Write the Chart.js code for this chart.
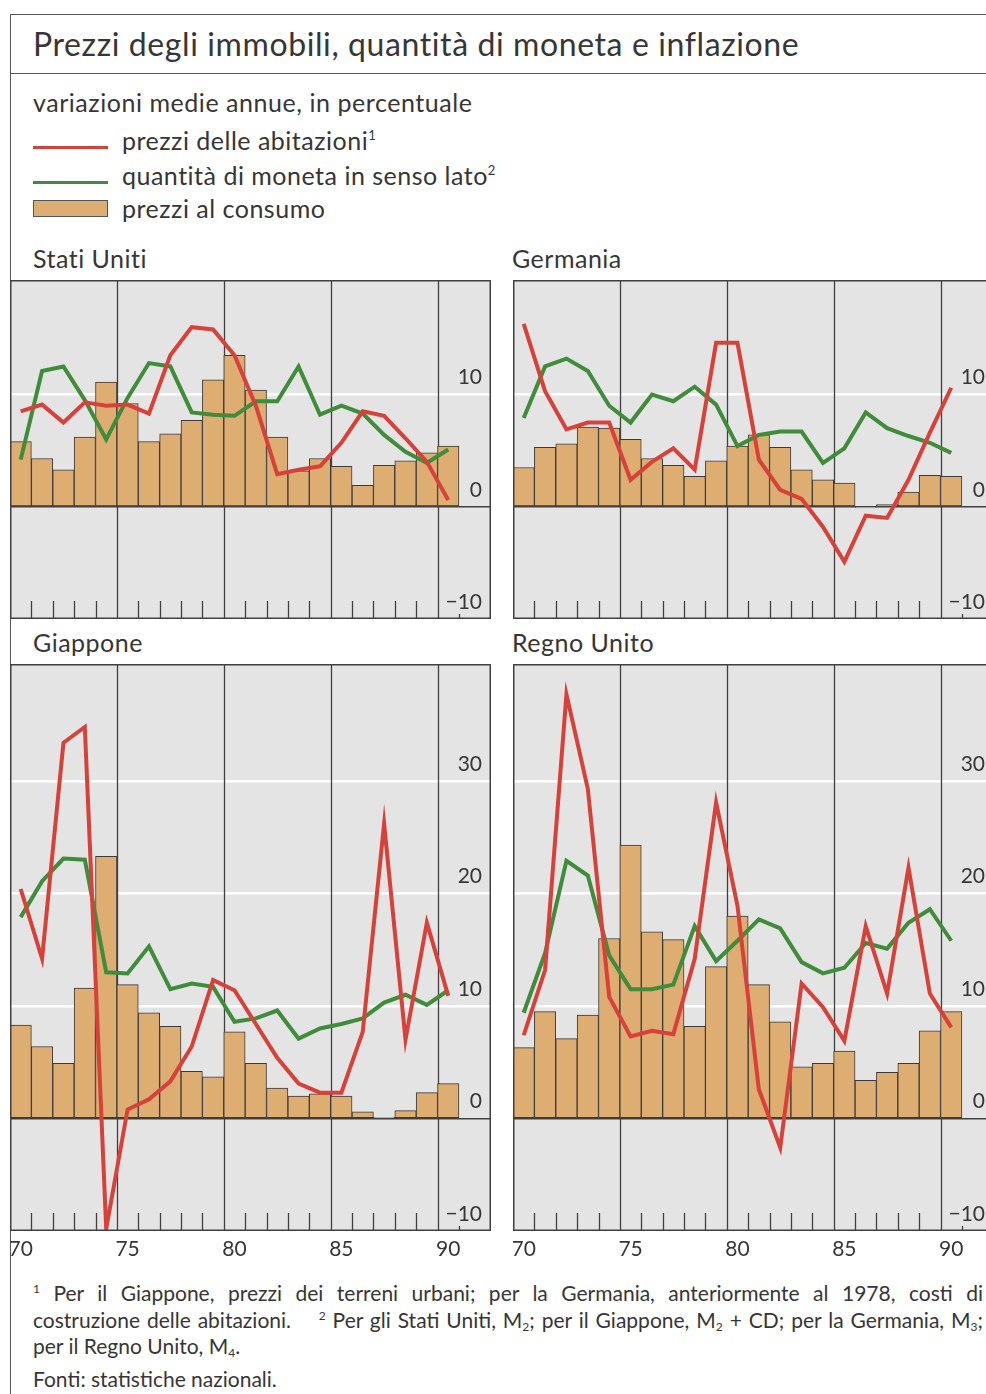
<!DOCTYPE html>
<html>
<head>
<meta charset="utf-8">
<script src="https://cdn.jsdelivr.net/npm/chart.js@4.4.1/dist/chart.umd.min.js"></script>
<style>
  body { margin: 0; width: 986px; height: 1394px; overflow: hidden; background: #fff;
         font-family: Lato, "Open Sans", sans-serif; color: #363636; position: relative; }
  .abs { position: absolute; white-space: nowrap; }
  .frame { position: absolute; left: 10px; top: 14px; width: 1000px; height: 1400px;
           border: 1.5px solid #555; box-sizing: border-box; }
  .sep { position: absolute; left: 10px; top: 73px; width: 990px; height: 0; border-top: 1.5px solid #555; }
  .title { left: 33px; top: 25px; font-size: 32px; line-height: 38px; letter-spacing: 0.6px; }
  .sub { left: 33px; top: 87px; font-size: 25px; line-height: 30px; letter-spacing: 0.55px; }
  .leg { left: 122px; font-size: 25px; line-height: 30px; letter-spacing: 0.5px; }
  .leg sup { font-size: 13px; vertical-align: 10px; }
  .swatch { position: absolute; left: 33px; width: 75px; }
  .panel-t { font-size: 25px; line-height: 30px; letter-spacing: 0.5px; }
  .box { position: absolute; }
  .note { position: absolute; left: 33px; width: 950px; font-size: 21px; line-height: 27px;
          white-space: nowrap; }
  .just { text-align: justify; text-align-last: justify; white-space: normal; }
  .note sup { font-size: 12px; vertical-align: 8px; }
  .note sub { font-size: 12px; vertical-align: -3px; }
</style>
</head>
<body>
<div class="frame"></div>
<div class="sep"></div>
<div class="abs title">Prezzi degli immobili, quantità di moneta e inflazione</div>
<div class="abs sub">variazioni medie annue, in percentuale</div>
<div class="swatch" style="top:146px;height:3px;background:#d8413a"></div>
<div class="abs leg" style="top:120px">prezzi delle abitazioni<sup>1</sup></div>
<div class="swatch" style="top:181px;height:3px;background:#3f8d3a"></div>
<div class="abs leg" style="top:155px">quantità di moneta in senso lato<sup>2</sup></div>
<div class="swatch" style="top:200px;height:17px;background:#ddad72;border:1px solid #555;box-sizing:border-box"></div>
<div class="abs leg" style="top:193px">prezzi al consumo</div>

<div class="abs panel-t" style="left:33px;top:243px">Stati Uniti</div>
<div class="abs panel-t" style="left:512px;top:243px">Germania</div>
<div class="abs panel-t" style="left:33px;top:627px">Giappone</div>
<div class="abs panel-t" style="left:512px;top:627px">Regno Unito</div>

<div class="box" style="left:10px;top:280px;width:481px;height:339px"><canvas id="us"></canvas></div>
<div class="box" style="left:513px;top:280px;width:481px;height:339px"><canvas id="de"></canvas></div>
<div class="box" style="left:10px;top:664px;width:481px;height:607px"><canvas id="jp"></canvas></div>
<div class="box" style="left:513px;top:664px;width:481px;height:607px"><canvas id="uk"></canvas></div>

<div class="note just" style="top:1275px"><sup>1</sup> Per il Giappone, prezzi dei terreni urbani; per la Germania, anteriormente al 1978, costi di</div>
<div class="note just" style="top:1302px">costruzione delle abitazioni.&nbsp;&nbsp;&nbsp; <sup>2</sup> Per gli Stati Uniti, M<sub>2</sub>; per il Giappone, M<sub>2</sub> + CD; per la Germania, M<sub>3</sub>;</div>
<div class="note" style="top:1332px">per il Regno Unito, M<sub>4</sub>.</div>
<div class="note" style="top:1365px">Fonti: statistiche nazionali.</div>

<script>
// annual data 1970-1990
const years = [1970, 1971, 1972, 1973, 1974, 1975, 1976, 1977, 1978, 1979, 1980,
               1981, 1982, 1983, 1984, 1985, 1986, 1987, 1988, 1989, 1990];

const usHouse = [8.5, 9.1, 7.5, 9.3, 9.0, 9.1, 8.3, 13.5, 16.0, 15.8, 13.5, 9.0, 2.9, 3.3, 3.6, 5.7, 8.5, 8.1, 6.1, 4.0, 0.6];
const usMoney = [4.2, 12.1, 12.5, 9.5, 6.0, 9.7, 12.8, 12.5, 8.4, 8.2, 8.1, 9.4, 9.4, 12.5, 8.2, 9.0, 8.3, 6.4, 4.9, 3.9, 5.1];
const usCpi   = [5.8, 4.3, 3.3, 6.2, 11.1, 9.2, 5.8, 6.5, 7.7, 11.3, 13.5, 10.4, 6.2, 3.2, 4.3, 3.6, 1.9, 3.7, 4.1, 4.8, 5.4];

const deHouse = [16.3, 10.3, 6.9, 7.5, 7.5, 2.4, 4.0, 5.2, 3.3, 14.6, 14.6, 4.2, 1.5, 0.7, -1.8, -4.9, -0.8, -1.0, 2.4, 6.6, 10.6];
const deMoney = [7.9, 12.5, 13.2, 12.1, 9.0, 7.5, 10.0, 9.4, 10.7, 9.1, 5.4, 6.4, 6.7, 6.7, 3.9, 5.2, 8.4, 7.0, 6.3, 5.7, 4.8];
const deCpi   = [3.5, 5.3, 5.6, 7.1, 7.0, 6.0, 4.3, 3.7, 2.7, 4.1, 5.4, 6.4, 5.3, 3.3, 2.4, 2.1, -0.1, 0.2, 1.3, 2.8, 2.7];

const jpHouse = [20.4, 14.2, 33.4, 34.8, -9.8, 0.8, 1.7, 3.3, 6.4, 12.3, 11.4, 8.4, 5.4, 3.1, 2.3, 2.3, 7.7, 26.2, 7.0, 17.4, 10.9];
const jpMoney = [17.9, 21.1, 23.1, 23.0, 13.0, 12.9, 15.3, 11.5, 12.0, 11.7, 8.6, 8.9, 9.6, 7.1, 8.0, 8.4, 8.9, 10.3, 11.0, 10.1, 11.4];
const jpCpi   = [8.3, 6.4, 4.9, 11.6, 23.3, 11.9, 9.4, 8.2, 4.2, 3.7, 7.7, 4.9, 2.7, 2.0, 2.2, 2.0, 0.6, 0.1, 0.7, 2.3, 3.1];

const ukHouse = [7.4, 13.2, 37.7, 29.3, 10.8, 7.3, 7.8, 7.5, 14.2, 28.1, 18.9, 2.6, -2.6, 12.0, 9.9, 6.9, 17.1, 11.1, 22.3, 11.1, 8.1];
const ukMoney = [9.4, 14.7, 22.9, 21.6, 14.5, 11.5, 11.5, 11.9, 17.1, 14.0, 15.8, 17.7, 16.9, 13.9, 12.9, 13.4, 15.6, 15.1, 17.4, 18.6, 15.8];
const ukCpi   = [6.3, 9.5, 7.1, 9.2, 16.0, 24.3, 16.6, 15.9, 8.2, 13.5, 18.0, 11.9, 8.6, 4.6, 4.9, 6.0, 3.4, 4.1, 4.9, 7.8, 9.5];

const xLabelYears = [1970, 1975, 1980, 1985, 1990];
const majorBounds = [1974.5, 1979.5, 1984.5, 1989.5];
const minorBounds = [1970.5, 1971.5, 1972.5, 1973.5, 1975.5, 1976.5, 1977.5, 1978.5,
                     1980.5, 1981.5, 1982.5, 1983.5, 1985.5, 1986.5, 1987.5, 1988.5, 1990.5];
const yTicksTop = [-10, 0, 10];
const yTicksBottom = [-10, 0, 10, 20, 30];

const RED = '#d8413a', GREEN = '#3f8d3a', TAN = '#ddad72', INK = '#404040';

const pts = vals => years.map((x, i) => ({ x, y: vals[i] }));

// grey plot background, year separators, small ticks and frame
const panelDecor = {
  id: 'panelDecor',
  beforeDraw(chart) {
    const a = chart.chartArea, c = chart.ctx;
    c.save();
    c.fillStyle = '#e4e4e4';
    c.fillRect(a.left, a.top, a.width, a.height);
    c.restore();
  },
  beforeDatasetsDraw(chart) {
    const a = chart.chartArea, c = chart.ctx, xs = chart.scales.x;
    c.save();
    c.strokeStyle = INK;
    c.lineWidth = 1.3;
    c.beginPath();
    majorBounds.forEach(v => {
      const px = Math.round(xs.getPixelForValue(v)) + 0.5;
      c.moveTo(px, a.top); c.lineTo(px, a.bottom);
    });
    minorBounds.forEach(v => {
      const px = Math.round(xs.getPixelForValue(v)) + 0.5;
      const len = v > 1990 ? 5 : 18;
      c.moveTo(px, a.bottom); c.lineTo(px, a.bottom - len);
    });
    c.stroke();
    c.restore();
  },
  afterDraw(chart) {
    const a = chart.chartArea, c = chart.ctx;
    c.save();
    c.strokeStyle = INK;
    c.lineWidth = 1.5;
    c.strokeRect(a.left + 0.75, a.top + 0.75, a.width - 1.5, a.height - 1.5);
    c.restore();
  }
};

function makePanel(id, house, money, cpi, yMax, yTicks, showX) {
  new Chart(document.getElementById(id), {
    type: 'bar',
    data: {
      datasets: [
        { type: 'line', data: pts(house), borderColor: RED, borderWidth: 4, pointRadius: 0, tension: 0, order: 0 },
        { type: 'line', data: pts(money), borderColor: GREEN, borderWidth: 4, pointRadius: 0, tension: 0, order: 1 },
        { type: 'bar', data: pts(cpi), backgroundColor: TAN, borderColor: '#3a3a3a', borderWidth: 1,
          borderSkipped: false, categoryPercentage: 1, barPercentage: 1, order: 2 }
      ]
    },
    options: {
      responsive: true,
      maintainAspectRatio: false,
      animation: false,
      devicePixelRatio: 1,
      layout: { padding: 0 },
      plugins: { legend: { display: false }, tooltip: { enabled: false } },
      scales: {
        x: {
          type: 'linear',
          min: 1969.5,
          max: 1992,
          offset: false,
          display: showX,
          afterBuildTicks: s => { s.ticks = xLabelYears.map(v => ({ value: v })); },
          afterFit: s => { s.height = showX ? 40 : 0; s.paddingLeft = 0; s.paddingRight = 0; },
          grid: { display: false, drawTicks: false, offset: false },
          border: { display: false },
          ticks: {
            color: '#363636', padding: 6,
            font: { family: 'Lato', size: 21 },
            callback: v => String(v).slice(2)
          }
        },
        y: {
          position: 'right',
          min: -10,
          max: yMax,
          afterBuildTicks: s => { s.ticks = yTicks.map(v => ({ value: v })); },
          afterFit: s => { s.width = 0; s.paddingTop = 0; s.paddingBottom = 0; },
          border: { display: false },
          grid: {
            drawTicks: false,
            color: ctx => ctx.tick.value === 0 ? INK : (ctx.tick.value < 0 ? 'rgba(0,0,0,0)' : '#ffffff'),
            lineWidth: ctx => ctx.tick.value === 0 ? 1.5 : 2.5
          },
          ticks: {
            mirror: true,
            padding: -9,
            labelOffset: -17,
            color: '#363636',
            font: { family: 'Lato', size: 21 },
            callback: v => v < 0 ? '\u2212' + Math.abs(v) : String(v)
          }
        }
      }
    },
    plugins: [panelDecor]
  });
}

makePanel('us', usHouse, usMoney, usCpi, 20.2, yTicksTop, false);
makePanel('de', deHouse, deMoney, deCpi, 20.2, yTicksTop, false);
makePanel('jp', jpHouse, jpMoney, jpCpi, 40.4, yTicksBottom, true);
makePanel('uk', ukHouse, ukMoney, ukCpi, 40.4, yTicksBottom, true);
</script>
</body>
</html>
